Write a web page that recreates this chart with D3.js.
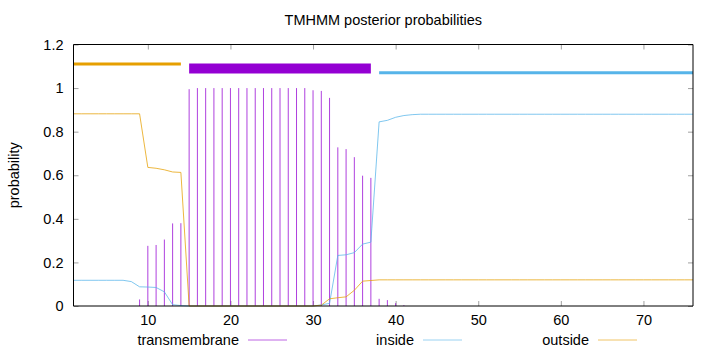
<!DOCTYPE html>
<html>
<head>
<meta charset="utf-8">
<script src="https://cdn.jsdelivr.net/npm/d3@7/dist/d3.min.js"></script>
<style>
body { margin: 0; background: #fff; }
svg { display: block; font-family: "Liberation Sans", Arial, sans-serif; }
</style>
</head>
<body>
<div id="chart"></div>
<script>
// residue positions 1..76
var residues = [1,2,3,4,5,6,7,8,9,10,11,12,13,14,15,16,17,18,19,20,21,22,23,24,25,26,27,28,29,30,31,32,33,34,35,36,37,38,39,40,41,42,43,44,45,46,47,48,49,50,51,52,53,54,55,56,57,58,59,60,61,62,63,64,65,66,67,68,69,70,71,72,73,74,75,76];

var transmembrane = [0,0,0,0,0,0,0,0,0.03,0.276,0.28,0.305,0.379,0.38,
  0.995,1,1,1,1,1,1,1,1,1,1,1,1,1,1,0.99,0.987,0.955,
  0.728,0.72,0.683,0.598,0.588,0.033,0.027,0.013,0.004,
  0,0,0,0,0,0,0,0,0,0,0,0,0,0,0,0,0,0,0,0,0,0,0,0,0,0,0,0,0,0,0,0,0,0,0];

var inside = [0.118,0.118,0.118,0.118,0.118,0.118,0.118,0.112,0.088,0.087,0.085,0.065,0.006,0.002,
  0,0,0,0,0,0,0,0,0,0,0,0,0,0,0,0,0.005,0.012,
  0.232,0.235,0.245,0.284,0.293,0.845,0.852,0.866,0.874,0.878,
  0.88,0.88,0.88,0.88,0.88,0.88,0.88,0.88,0.88,0.88,0.88,0.88,0.88,0.88,0.88,0.88,0.88,
  0.88,0.88,0.88,0.88,0.88,0.88,0.88,0.88,0.88,0.88,0.88,0.88,0.88,0.88,0.88,0.88,0.88];

var outside = [0.882,0.882,0.882,0.882,0.882,0.882,0.882,0.882,0.882,0.636,0.632,0.625,0.615,0.613,
  0,0,0,0,0,0,0,0,0,0,0,0,0,0,0,0,0.004,0.033,0.038,0.042,0.072,0.114,0.117,
  0.12,0.12,0.12,0.12,0.12,0.12,0.12,0.12,0.12,0.12,0.12,0.12,0.12,0.12,0.12,0.12,0.12,0.12,0.12,0.12,
  0.12,0.12,0.12,0.12,0.12,0.12,0.12,0.12,0.12,0.12,0.12,0.12,0.12,0.12,0.12,0.12,0.12,0.12,0.12];

// predicted topology (inside / TM helix / outside)
var regionStart = [1, 15, 38];
var regionEnd = [14, 37, 76];
var regionLevel = [1.11, 1.09, 1.07];

var xTicks = [10, 20, 30, 40, 50, 60, 70];
var yTicks = [0, 0.2, 0.4, 0.6, 0.8, 1, 1.2];
var legendNames = ['transmembrane', 'inside', 'outside'];

var purple = '#9400d3', blue = '#56b4e9', orange = '#e69f00';

var width = 720, height = 352;
var margin = { top: 44.5, right: 27, bottom: 46, left: 73.5 };

var svg = d3.select('#chart').append('svg')
    .attr('width', width)
    .attr('height', height);

var x = d3.scaleLinear()
    .domain([1, 76])
    .range([margin.left, width - margin.right]);

var y = d3.scaleLinear()
    .domain([0, 1.2])
    .range([height - margin.bottom, margin.top]);

// ticks (gnuplot style: inward and mirrored)
svg.append('g')
    .attr('transform', `translate(${x.range()[0]},0)`)
    .call(d3.axisLeft(y).tickValues(yTicks).tickSize(-5).tickPadding(10).tickFormat(d => +d.toFixed(1)))
    .call(g => g.select('.domain').remove());
svg.append('g')
    .attr('transform', `translate(${x.range()[1]},0)`)
    .call(d3.axisRight(y).tickValues(yTicks).tickSize(-5).tickFormat(''))
    .call(g => g.select('.domain').remove());
svg.append('g')
    .attr('transform', `translate(0,${y.range()[0]})`)
    .call(d3.axisBottom(x).tickValues(xTicks).tickSize(-5).tickPadding(9))
    .call(g => g.select('.domain').remove());
svg.append('g')
    .attr('transform', `translate(0,${y.range()[1]})`)
    .call(d3.axisTop(x).tickValues(xTicks).tickSize(-5).tickFormat(''))
    .call(g => g.select('.domain').remove());

svg.selectAll('.tick line').attr('stroke', '#a0a0a0');
svg.selectAll('.tick text')
    .attr('fill', '#000')
    .style('font-size', '14.5px')
    .style('font-family', '"Liberation Sans", Arial, sans-serif');

// topology bars at the top
var regionColor = [orange, purple, blue];
var regionWidth = [3, 10, 3];
svg.selectAll('.region')
    .data(regionStart)
    .enter()
    .append('line')
    .attr('x1', (d, i) => x(d))
    .attr('x2', (d, i) => x(regionEnd[i]))
    .attr('y1', (d, i) => y(regionLevel[i]))
    .attr('y2', (d, i) => y(regionLevel[i]))
    .attr('stroke', (d, i) => regionColor[i])
    .attr('stroke-width', (d, i) => regionWidth[i]);

// transmembrane impulses
svg.selectAll('.impulse')
    .data(residues)
    .enter()
    .append('line')
    .attr('x1', d => x(d))
    .attr('x2', d => x(d))
    .attr('y1', y(0))
    .attr('y2', (d, i) => y(transmembrane[i]))
    .attr('stroke', purple)
    .attr('stroke-opacity', 0.75)
    .attr('stroke-width', 1);

var line = d3.line()
    .x(d => x(d[0]))
    .y(d => y(d[1]));

svg.append('path')
    .datum(d3.zip(residues, inside))
    .attr('d', line)
    .attr('fill', 'none')
    .attr('stroke', blue)
    .attr('stroke-opacity', 0.75)
    .attr('stroke-width', 1);

svg.append('path')
    .datum(d3.zip(residues, outside))
    .attr('d', line)
    .attr('fill', 'none')
    .attr('stroke', orange)
    .attr('stroke-opacity', 0.75)
    .attr('stroke-width', 1);

// frame
var x0 = x.range()[0], x1 = x.range()[1], y0 = y.range()[0], y1 = y.range()[1];
svg.append('path')
    .attr('d', `M${x0},${y1}L${x1},${y1}L${x1},${y0}L${x0},${y0}Z`)
    .attr('fill', 'none')
    .attr('stroke', '#000')
    .attr('stroke-width', 1);

// title and y label
svg.append('text')
    .attr('x', (x0 + x1) / 2)
    .attr('y', 25)
    .attr('text-anchor', 'middle')
    .style('font-size', '14.5px')
    .text('TMHMM posterior probabilities');

svg.append('text')
    .attr('transform', `translate(19,${(y0 + y1) / 2}) rotate(-90)`)
    .attr('text-anchor', 'middle')
    .style('font-size', '14.5px')
    .text('probability');

// legend
var legendColor = [purple, blue, orange];
var legend = svg.selectAll('.legend')
    .data(legendNames)
    .enter()
    .append('g')
    .attr('transform', (d, i) => `translate(${239 + i * 175},345)`);
legend.append('text')
    .attr('text-anchor', 'end')
    .attr('y', 0)
    .style('font-size', '14.5px')
    .text(d => d);
legend.append('line')
    .attr('x1', 9)
    .attr('x2', 48)
    .attr('y1', -5)
    .attr('y2', -5)
    .attr('stroke', (d, i) => legendColor[i])
    .attr('stroke-opacity', 0.6)
    .attr('stroke-width', 1);
</script>
</body>
</html>
